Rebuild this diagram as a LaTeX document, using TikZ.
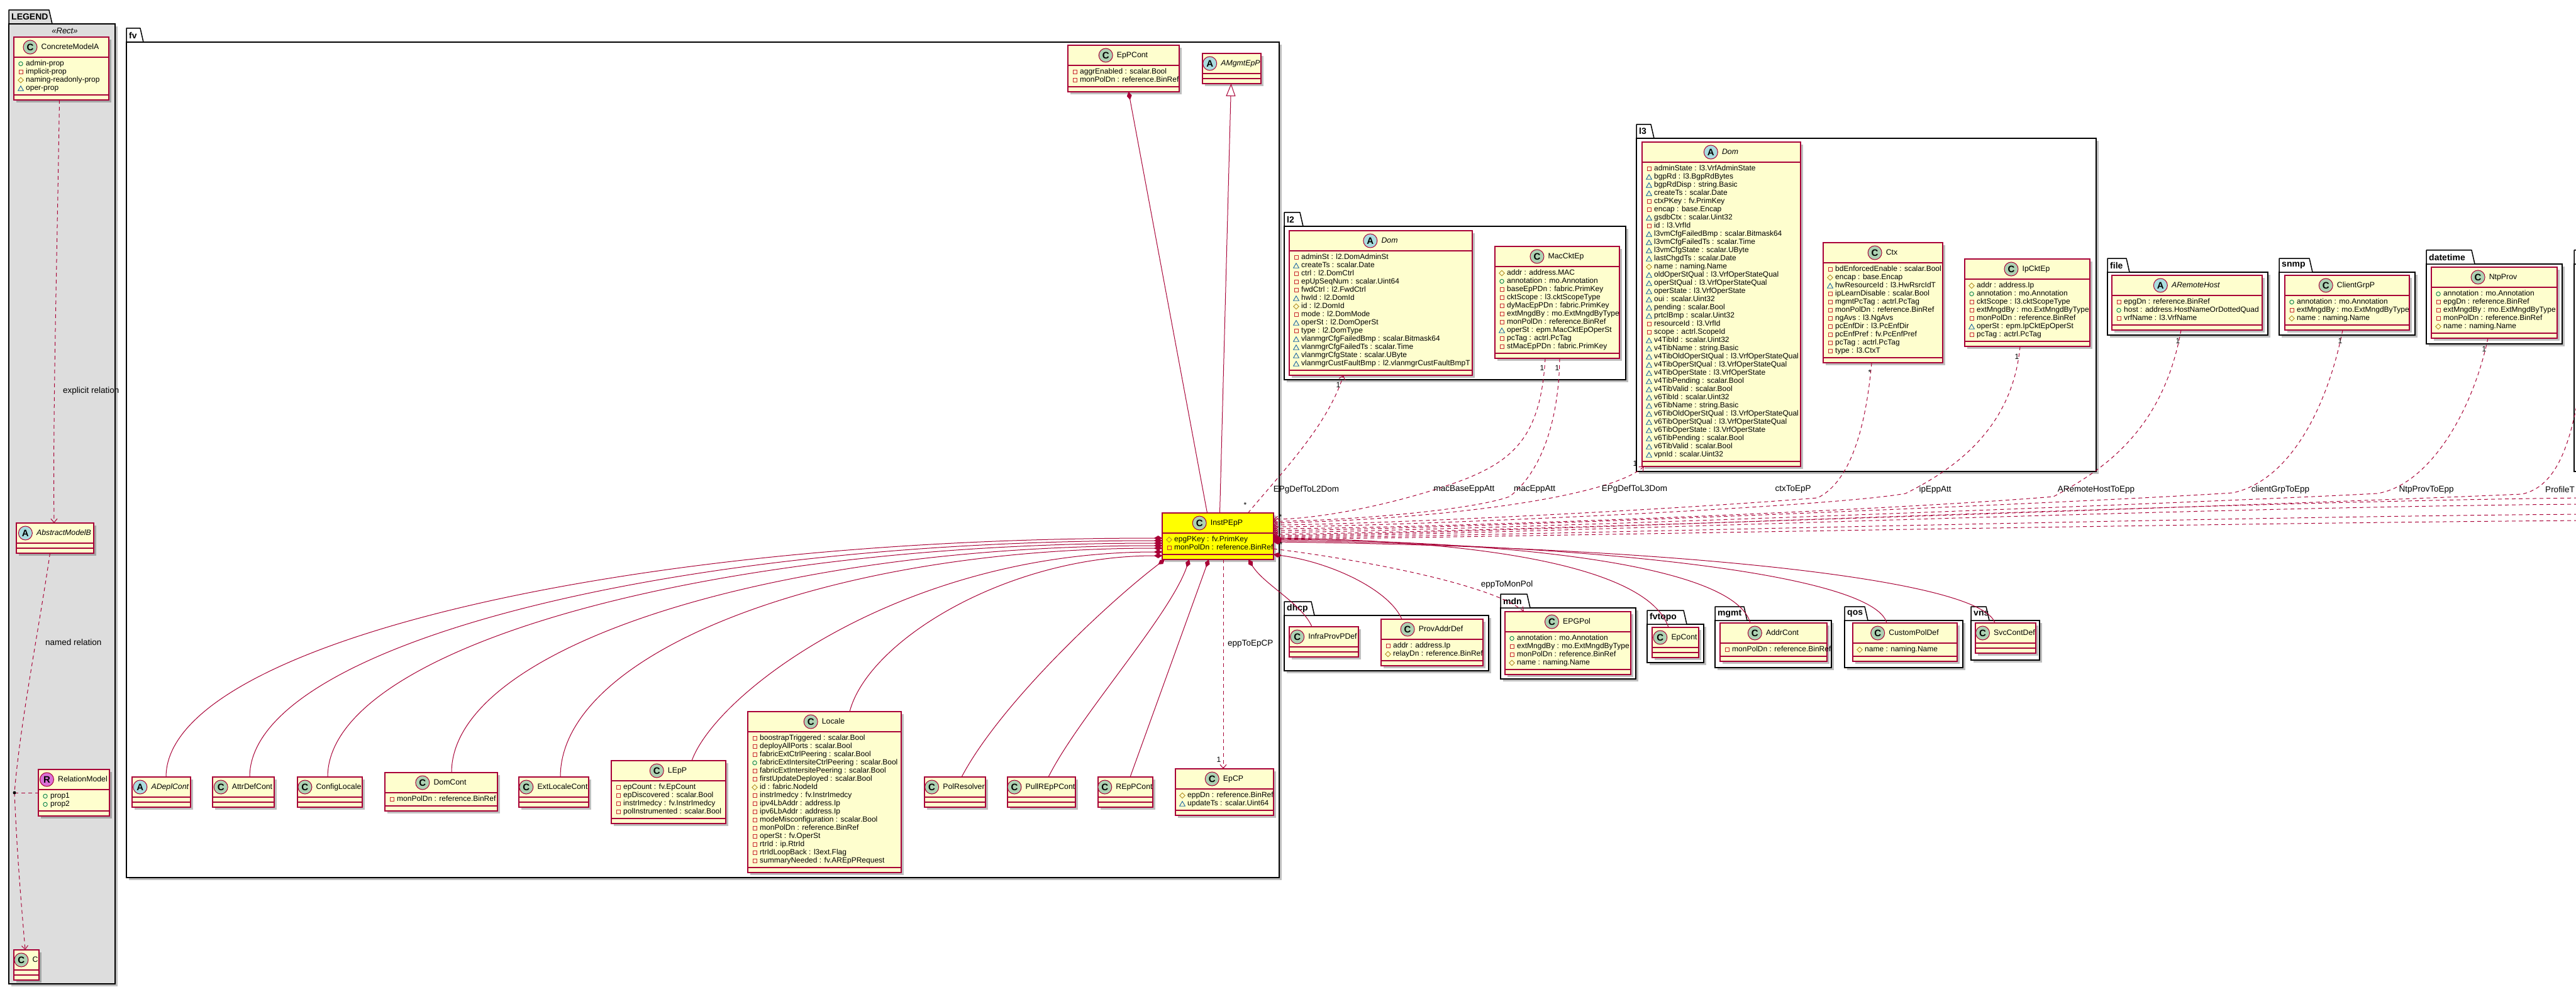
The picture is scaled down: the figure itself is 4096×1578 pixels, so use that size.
\documentclass[tikz,border=0pt]{standalone}
\usepackage{fontspec}
\setmainfont{Liberation Sans}
\usetikzlibrary{arrows.meta,shadows,shapes.geometric}
\definecolor{uml}{HTML}{A80036}
\definecolor{clsfill}{HTML}{FEFECE}
\definecolor{instfill}{HTML}{FFFF00}
\definecolor{iconC}{HTML}{ADD1B2}
\definecolor{iconA}{HTML}{A9DCDF}
\definecolor{iconR}{HTML}{DA70D6}
\definecolor{legbg}{HTML}{DDDDDD}
\definecolor{privc}{HTML}{C82930}
\definecolor{pubc}{HTML}{038048}
\definecolor{protc}{HTML}{B38D22}
\definecolor{pkgc}{HTML}{1963A0}
\tikzset{
 conn/.style={draw=uml, line width=1pt},
 dconn/.style={conn, dash pattern=on 6pt off 5pt},
 comp/.style={conn, {Diamond[length=13pt,width=8pt]}-},
 clsbox/.style={rectangle, draw=uml, line width=1.4pt, inner sep=0pt, outer sep=0pt,
   drop shadow={shadow xshift=4pt,shadow yshift=-4pt,opacity=0.25,fill=black}},
 pkgbox/.style={rectangle, draw=black, line width=1.5pt, inner sep=0pt, outer sep=0pt,
   drop shadow={shadow xshift=4pt,shadow yshift=-4pt,opacity=0.25,fill=black}},
 pkgline/.style={draw=black, line width=1.5pt, line join=round},
 pkgname/.style={inner sep=0pt, anchor=west, font=\bfseries\fontsize{14}{16}\selectfont},
 clsname/.style={inner sep=0pt, font=\fontsize{12.3}{14}\selectfont, text height=9pt, text depth=2.5pt},
 clsicon/.style={circle, draw=uml, line width=1pt, minimum size=22pt, inner sep=0pt,
   font=\bfseries\fontsize{15}{16}\selectfont},
 attrtxt/.style={inner sep=0pt, anchor=west, font=\fontsize{12}{13}\selectfont, text height=8.5pt, text depth=2.5pt},
 atpriv/.style={rectangle, draw=privc, line width=0.9pt, minimum size=6pt, inner sep=0pt},
 atpub/.style={circle, draw=pubc, line width=0.9pt, minimum size=6.5pt, inner sep=0pt},
 atprot/.style={diamond, draw=protc, line width=0.9pt, minimum size=9pt, inner sep=0pt},
 atpkg/.style={regular polygon, regular polygon sides=3, draw=pkgc, line width=0.9pt, minimum size=10pt, inner sep=0pt, yshift=-1.2pt},
 lbl/.style={inner sep=0pt, font=\fontsize{13.5}{15}\selectfont},
 mult/.style={inner sep=0pt, font=\fontsize{12}{14}\selectfont},
 stereo/.style={inner sep=0pt, font=\itshape\fontsize{13}{15}\selectfont},
}
\newcommand{\uiconpriv}[2]{\node[atpriv] (#1) at (#2) {};}
\newcommand{\uiconpub}[2]{\node[atpub] (#1) at (#2) {};}
\newcommand{\uiconprot}[2]{\node[atprot] (#1) at (#2) {};}
\newcommand{\uiconpkg}[2]{\node[atpkg] (#1) at (#2) {};}
% #1 fill, #2 id, #3 x, #4 y, #5 width, #6 number of attributes, #7 letter, #8 icon colour, #9 name
\newcommand{\umlclass}[9][clsfill]{%
  \pgfmathsetmacro{\uh}{48+13*#6}%
  \node[clsbox, fill=#1, minimum width=#5pt, minimum height=\uh pt, anchor=north west] (#2) at (#3,#4) {};
  \draw[uml, line width=1.4pt] ([yshift=-32pt]#2.north west) -- ([yshift=-32pt]#2.north east);
  \draw[uml, line width=1.4pt] ([yshift=8pt]#2.south west) -- ([yshift=8pt]#2.south east);
  \node[clsname] (#2-n) at ([xshift=14pt,yshift=-16pt]#2.north) {#9};
  \node[clsicon, fill=#8, anchor=east] (#2-i) at ([xshift=-6pt]#2-n.west) {#7};
}
\newcommand{\uattr}[4]{%
  \pgfmathsetmacro{\ay}{42.5+13*(#2-1)}%
  \csname uicon#3\endcsname{#1-k#2}{[xshift=11pt,yshift=-\ay pt]#1.north west}%
  \node[attrtxt] (#1-a#2) at ([xshift=19pt,yshift=-\ay pt]#1.north west) {#4};
}
\newcommand{\uattrs}[2]{\foreach \ukd/\utx [count=\uidx] in {#2} {\uattr{#1}{\uidx}{\ukd}{\utx}}}
% #1 id, #2 x, #3 body top, #4 w, #5 h, #6 tab width, #7 name, #8 fill
\newcommand{\upkg}[8]{%
  \node[pkgbox, fill=#8, minimum width=#4pt, minimum height=#5pt, anchor=north west] (#1) at (#2,#3) {};
  \draw[pkgline, fill=#8] (#2,#3) -- (#2,#3-22) -- (#2+#6-5,#3-22) -- (#2+#6,#3) -- cycle;
  \node[pkgname] (#1-t) at (#2+4,#3-11) {#7};
}
\begin{document}
\begin{tikzpicture}[x=1pt,y=-1pt,>={Straight Barb[length=6pt,width=10pt]}]
\useasboundingbox (0,0) rectangle (4096,1578);
\clip (0,0) rectangle (4096,1578);
\fill[white] (0,0) rectangle (4096,1578);

% ---------------- packages
\upkg{pLEG}{14}{38}{169}{1527}{69}{LEGEND}{legbg}
\upkg{pfv}{201}{67}{1833}{1329}{27}{fv}{white}
\upkg{pl2}{2042}{360}{543}{244}{30}{l2}{white}
\upkg{pl3}{2602}{220}{731}{530}{28}{l3}{white}
\upkg{pfile}{3351}{433}{255}{100}{35}{file}{white}
\upkg{psnmp}{3624}{433}{216}{100}{53}{snmp}{white}
\upkg{pdt}{3858}{420}{216}{127}{77}{datetime}{white}
\upkg{pext}{4093}{420}{300}{330}{60}{}{white}
\upkg{pdhcp}{2042}{979}{325}{88}{48}{dhcp}{white}
\upkg{pmdn}{2386}{967}{215}{113}{47}{mdn}{white}
\upkg{pfvt}{2619}{993}{90}{61}{63}{fvtopo}{white}
\upkg{pmgmt}{2727}{987}{185}{75}{51}{mgmt}{white}
\upkg{pqos}{2933}{987}{188}{75}{37}{qos}{white}
\upkg{pvns}{3134}{987}{109}{63}{29}{vns}{white}

% ---------------- legend
\node[stereo] (st) at (103,49) {«Rect»};
\umlclass{cma}{22}{59}{151}{4}{C}{iconC}{ConcreteModelA}
\uattrs{cma}{pub/admin-prop,priv/implicit-prop,prot/naming-readonly-prop,pkg/oper-prop}
\umlclass{amb}{26}{832}{123}{0}{A}{iconA}{\textit{AbstractModelB}}
\umlclass{rm}{61}{1224}{113}{2}{R}{iconR}{RelationModel}
\uattrs{rm}{pub/prop1,pub/prop2}
\umlclass{cc}{22}{1511}{40}{0}{C}{iconC}{C}

% ---------------- fv
\umlclass{eppc}{1698}{72}{177}{2}{C}{iconC}{EpPCont}
\uattrs{eppc}{priv/aggrEnabled : scalar.Bool,priv/monPolDn : reference.BinRef}
\umlclass{amgmt}{1912}{85}{93}{0}{A}{iconA}{\textit{AMgmtEpP}}
\umlclass[instfill]{inst}{1848}{816}{177}{2}{C}{iconC}{InstPEpP}
\uattrs{inst}{prot/epgPKey : fv.PrimKey,priv/monPolDn : reference.BinRef}
\umlclass{adepl}{210}{1236}{93}{0}{A}{iconA}{\textit{ADeplCont}}
\umlclass{attrdef}{338}{1236}{98}{0}{C}{iconC}{AttrDefCont}
\umlclass{cfgloc}{473}{1236}{103}{0}{C}{iconC}{ConfigLocale}
\umlclass{domcont}{612}{1229}{179}{1}{C}{iconC}{DomCont}
\uattrs{domcont}{priv/monPolDn : reference.BinRef}
\umlclass{extloc}{825}{1236}{111}{0}{C}{iconC}{ExtLocaleCont}
\umlclass{lepp}{972}{1210}{182}{4}{C}{iconC}{LEpP}
\uattrs{lepp}{priv/epCount : fv.EpCount,priv/epDiscovered : scalar.Bool,priv/instrImedcy : fv.InstrImedcy,priv/polInstrumented : scalar.Bool}
\umlclass{locale}{1189}{1132}{244}{16}{C}{iconC}{Locale}
\uattrs{locale}{priv/boostrapTriggered : scalar.Bool,%
priv/deployAllPorts : scalar.Bool,%
priv/fabricExtCtrlPeering : scalar.Bool,%
pub/fabricExtIntersiteCtrlPeering : scalar.Bool,%
priv/fabricExtIntersitePeering : scalar.Bool,%
priv/firstUpdateDeployed : scalar.Bool,%
prot/id : fabric.NodeId,%
priv/instrImedcy : fv.InstrImedcy,%
priv/ipv4LbAddr : address.Ip,%
priv/ipv6LbAddr : address.Ip,%
priv/modeMisconfiguration : scalar.Bool,%
priv/monPolDn : reference.BinRef,%
priv/operSt : fv.OperSt,%
priv/rtrId : ip.RtrId,%
priv/rtrIdLoopBack : l3ext.Flag,%
priv/summaryNeeded : fv.AREpPRequest}
\umlclass{polres}{1470}{1236}{97}{0}{C}{iconC}{PolResolver}
\umlclass{pullrep}{1602}{1236}{108}{0}{C}{iconC}{PullREpPCont}
\umlclass{rep}{1746}{1236}{87}{0}{C}{iconC}{REpPCont}
\umlclass{epcp}{1869}{1223}{156}{2}{C}{iconC}{EpCP}
\uattrs{epcp}{prot/eppDn : reference.BinRef,pkg/updateTs : scalar.Uint64}

% ---------------- l2
\umlclass{l2dom}{2050}{367}{291}{14}{A}{iconA}{\textit{Dom}}
\uattrs{l2dom}{priv/adminSt : l2.DomAdminSt,%
pkg/createTs : scalar.Date,%
priv/ctrl : l2.DomCtrl,%
priv/epUpSeqNum : scalar.Uint64,%
priv/fwdCtrl : l2.FwdCtrl,%
pkg/hwId : l2.DomId,%
prot/id : l2.DomId,%
priv/mode : l2.DomMode,%
pkg/operSt : l2.DomOperSt,%
priv/type : l2.DomType,%
pkg/vlanmgrCfgFailedBmp : scalar.Bitmask64,%
pkg/vlanmgrCfgFailedTs : scalar.Time,%
pkg/vlanmgrCfgState : scalar.UByte,%
pkg/vlanmgrCustFaultBmp : l2.vlanmgrCustFaultBmpT}
\umlclass{maccktep}{2377}{392}{198}{10}{C}{iconC}{MacCktEp}
\uattrs{maccktep}{prot/addr : address.MAC,%
pub/annotation : mo.Annotation,%
priv/baseEpPDn : fabric.PrimKey,%
priv/cktScope : l3.cktScopeType,%
priv/dyMacEpPDn : fabric.PrimKey,%
priv/extMngdBy : mo.ExtMngdByType,%
priv/monPolDn : reference.BinRef,%
pkg/operSt : epm.MacCktEpOperSt,%
priv/pcTag : actrl.PcTag,%
priv/stMacEpPDn : fabric.PrimKey}

% ---------------- l3
\umlclass{l3dom}{2611}{226}{252}{36}{A}{iconA}{\textit{Dom}}
\uattrs{l3dom}{priv/adminState : l3.VrfAdminState,%
pkg/bgpRd : l3.BgpRdBytes,%
pkg/bgpRdDisp : string.Basic,%
pkg/createTs : scalar.Date,%
priv/ctxPKey : fv.PrimKey,%
priv/encap : base.Encap,%
pkg/gsdbCtx : scalar.Uint32,%
priv/id : l3.VrfId,%
pkg/l3vmCfgFailedBmp : scalar.Bitmask64,%
pkg/l3vmCfgFailedTs : scalar.Time,%
pkg/l3vmCfgState : scalar.UByte,%
pkg/lastChgdTs : scalar.Date,%
prot/name : naming.Name,%
pkg/oldOperStQual : l3.VrfOperStateQual,%
pkg/operStQual : l3.VrfOperStateQual,%
pkg/operState : l3.VrfOperState,%
pkg/oui : scalar.Uint32,%
pkg/pending : scalar.Bool,%
pkg/prtclBmp : scalar.Uint32,%
priv/resourceId : l3.VrfId,%
priv/scope : actrl.ScopeId,%
pkg/v4TibId : scalar.Uint32,%
pkg/v4TibName : string.Basic,%
pkg/v4TibOldOperStQual : l3.VrfOperStateQual,%
pkg/v4TibOperStQual : l3.VrfOperStateQual,%
pkg/v4TibOperState : l3.VrfOperState,%
pkg/v4TibPending : scalar.Bool,%
pkg/v4TibValid : scalar.Bool,%
pkg/v6TibId : scalar.Uint32,%
pkg/v6TibName : string.Basic,%
pkg/v6TibOldOperStQual : l3.VrfOperStateQual,%
pkg/v6TibOperStQual : l3.VrfOperStateQual,%
pkg/v6TibOperState : l3.VrfOperState,%
pkg/v6TibPending : scalar.Bool,%
pkg/v6TibValid : scalar.Bool,%
pkg/vpnId : scalar.Uint32}
\umlclass{ctx}{2899}{386}{190}{11}{C}{iconC}{Ctx}
\uattrs{ctx}{priv/bdEnforcedEnable : scalar.Bool,%
prot/encap : base.Encap,%
pkg/hwResourceId : l3.HwRsrcIdT,%
priv/ipLearnDisable : scalar.Bool,%
priv/mgmtPcTag : actrl.PcTag,%
priv/monPolDn : reference.BinRef,%
priv/ngAvs : l3.NgAvs,%
priv/pcEnfDir : l3.PcEnfDir,%
priv/pcEnfPref : fv.PcEnfPref,%
priv/pcTag : actrl.PcTag,%
priv/type : l3.CtxT}
\umlclass{ipckt}{3124}{412}{199}{7}{C}{iconC}{IpCktEp}
\uattrs{ipckt}{prot/addr : address.Ip,%
pub/annotation : mo.Annotation,%
priv/cktScope : l3.cktScopeType,%
priv/extMngdBy : mo.ExtMngdByType,%
priv/monPolDn : reference.BinRef,%
pkg/operSt : epm.IpCktEpOperSt,%
priv/pcTag : actrl.PcTag}

% ---------------- file / snmp / datetime
\umlclass{arh}{3358}{438}{239}{3}{A}{iconA}{\textit{ARemoteHost}}
\uattrs{arh}{priv/epgDn : reference.BinRef,pub/host : address.HostNameOrDottedQuad,priv/vrfName : l3.VrfName}
\umlclass{cgp}{3633}{438}{198}{3}{C}{iconC}{ClientGrpP}
\uattrs{cgp}{pub/annotation : mo.Annotation,priv/extMngdBy : mo.ExtMngdByType,prot/name : naming.Name}
\umlclass{ntp}{3866}{425}{200}{5}{C}{iconC}{NtpProv}
\uattrs{ntp}{pub/annotation : mo.Annotation,priv/epgDn : reference.BinRef,priv/extMngdBy : mo.ExtMngdByType,priv/monPolDn : reference.BinRef,prot/name : naming.Name}

% ---------------- lower packages
\umlclass{ipd}{2050}{997}{110}{0}{C}{iconC}{InfraProvPDef}
\umlclass{pad}{2196}{985}{162}{2}{C}{iconC}{ProvAddrDef}
\uattrs{pad}{priv/addr : address.Ip,prot/relayDn : reference.BinRef}
\umlclass{epgpol}{2393}{973}{200}{4}{C}{iconC}{EPGPol}
\uattrs{epgpol}{pub/annotation : mo.Annotation,priv/extMngdBy : mo.ExtMngdByType,priv/monPolDn : reference.BinRef,prot/name : naming.Name}
\umlclass{epcont}{2627}{998}{74}{0}{C}{iconC}{EpCont}
\umlclass{addrcont}{2735}{991}{170}{1}{C}{iconC}{AddrCont}
\uattrs{addrcont}{priv/monPolDn : reference.BinRef}
\umlclass{cpd}{2946}{991}{166}{1}{C}{iconC}{CustomPolDef}
\uattrs{cpd}{prot/name : naming.Name}
\umlclass{scd}{3141}{991}{96}{0}{C}{iconC}{SvcContDef}

% ---------------- legend connectors
\draw[dconn,->] ([xshift=-3pt]cma.south) .. controls (90,450) and (84,650) .. ([xshift=-1.5pt]amb.north);
\node[lbl, anchor=west] (lb-exp) at (100,622) {explicit relation};
\coordinate (jn) at (23,1261);
\draw[dconn] ([xshift=-8pt]amb.south) .. controls (62,1000) and (32,1150) .. (jn);
\draw[dconn] (jn) -- (rm.west);
\draw[dconn,->] (jn) .. controls (28,1380) and (36,1460) .. ([xshift=-2pt]cc.north);
\fill[black] (jn) circle (2.5pt);
\node[lbl, anchor=west] (lb-named) at (72,1022) {named relation};

% ---------------- fv connectors
\draw[conn, {Diamond[length=13pt,width=8pt]}-] ([xshift=8pt]eppc.south) -- ([xshift=-17pt]inst.north);
\draw[conn, -{Triangle[length=20pt,width=15pt,fill=white]}] ([xshift=3pt]inst.north) -- ([xshift=-1pt]amgmt.south);

\draw[comp] ([yshift=-3pt]inst.west) .. controls (977,856) and (264,1027) .. ([xshift=7.5pt]adepl.north);
\draw[comp] ([yshift=-7pt]inst.west) .. controls (1050,860) and (397,1029) .. ([xshift=10pt]attrdef.north);
\draw[comp] ([yshift=-11pt]inst.west) .. controls (1118,864) and (521,1031) .. ([xshift=-3.5pt]cfgloc.north);
\draw[comp] ([yshift=-15pt]inst.west) .. controls (1226,868) and (718,1030) .. ([xshift=16.5pt]domcont.north);
\draw[comp] ([yshift=-19pt]inst.west) .. controls (1322,872) and (891,1036) .. ([xshift=10.5pt]extloc.north);
\draw[comp] ([yshift=-25pt]inst.west) .. controls (1437,878) and (1140,1100) .. ([xshift=37pt]lepp.north);
\draw[comp] ([yshift=-31pt]inst.west) .. controls (1600,884) and (1380,1020) .. ([xshift=40pt]locale.north);
\draw[comp] ([xshift=4pt]inst.south west) .. controls (1760,960) and (1590,1120) .. ([xshift=10.5pt]polres.north);
\draw[comp] ([xshift=43pt]inst.south west) .. controls (1860,980) and (1715,1140) .. ([xshift=11pt]pullrep.north);
\draw[comp] ([xshift=74pt]inst.south west) -- ([xshift=7.5pt]rep.north);
\draw[comp] ([xshift=137pt]inst.south west) .. controls (2010,930) and (2070,960) .. ([xshift=-19pt]ipd.north);
\draw[comp] ([yshift=-29pt]inst.east) .. controls (2120,895) and (2210,940) .. ([xshift=-48pt]pad.north);
\draw[comp] ([yshift=-3pt]inst.east) .. controls (2350,860) and (2620,900) .. ([xshift=-11pt]epcont.north);
\draw[comp] ([yshift=-5pt]inst.east) .. controls (2450,862) and (2760,905) .. ([xshift=-37pt]addrcont.north);
\draw[comp] ([yshift=-7pt]inst.east) .. controls (2550,866) and (2980,915) .. ([xshift=-29pt]cpd.north);
\draw[comp] ([yshift=-9pt]inst.east) .. controls (2650,870) and (3150,920) .. ([xshift=-17pt]scd.north);

% dashed relations
\draw[dconn,->] ([xshift=48pt]inst.north) .. controls (2030,760) and (2110,680) .. ([xshift=-59.5pt]l2dom.south);
\node[mult] (mu-a1) at (1980,803) {*};
\node[mult] (mu-a2) at (2128,612) {1};
\node[lbl] (lb-l2) at (2077,779) {EPgDefToL2Dom};

\draw[dconn,->] ([xshift=-19pt]maccktep.south) .. controls (2450,690) and (2410,730) .. (2330,762) .. controls (2230,800) and (2100,826) .. ([yshift=27pt]inst.east);
\node[mult] (mu-b) at (2452,585) {1};
\node[lbl] (lb-mb) at (2328,778) {macBaseEppAtt};

\draw[dconn,->] ([xshift=4pt]maccktep.south) .. controls (2478,690) and (2440,760) .. (2400,790) .. controls (2330,815) and (2100,830) .. ([yshift=24pt]inst.east);
\node[mult] (mu-c) at (2476,585) {1};
\node[lbl] (lb-me) at (2440,778) {macEppAtt};

\draw[dconn,->] ([yshift=21pt]inst.east) .. controls (2300,826) and (2560,790) .. ([xshift=3pt]l3dom.south west);
\node[mult] (mu-d) at (2600,737) {1};
\node[lbl] (lb-l3) at (2599,778) {EPgDefToL3Dom};

\draw[dconn,->] ([xshift=-18pt]ctx.south) .. controls (2965,700) and (2935,770) .. (2890,792) .. controls (2600,815) and (2150,835) .. ([yshift=18pt]inst.east);
\node[mult] (mu-e) at (2973,592) {*};
\node[lbl] (lb-ctx) at (2851,778) {ctxToEpP};

\draw[dconn,->] ([xshift=-11.5pt]ipckt.south) .. controls (3200,680) and (3110,745) .. (3030,785) .. controls (2900,808) and (2200,838) .. ([yshift=15pt]inst.east);
\node[mult] (mu-f) at (3207,567) {1};
\node[lbl] (lb-ip) at (3077,779) {ipEppAtt};

\draw[dconn,->] ([xshift=-9.5pt]arh.south) .. controls (3440,680) and (3350,745) .. (3265,790) .. controls (3000,812) and (2300,840) .. ([yshift=12pt]inst.east);
\node[mult] (mu-g) at (3463,542) {1};
\node[lbl] (lb-arh) at (3333,779) {ARemoteHostToEpp};

\draw[dconn,->] ([xshift=-7pt]cgp.south) .. controls (3700,650) and (3640,765) .. (3550,784) .. controls (3300,800) and (2300,842) .. ([yshift=9pt]inst.east);
\node[mult] (mu-h) at (3721,542) {1};
\node[lbl] (lb-cgp) at (3626,779) {clientGrpToEpp};

\draw[dconn,->] ([xshift=-10pt]ntp.south) .. controls (3930,660) and (3860,772) .. (3780,785) .. controls (3500,800) and (2300,845) .. ([yshift=6pt]inst.east);
\node[mult] (mu-i) at (3950,555) {1};
\node[lbl] (lb-ntp) at (3858,779) {NtpProvToEpp};

\coordinate (rx0) at (4110,560);
\coordinate (rx1) at (4110,792);
\coordinate (rx2) at (4110,802);
\coordinate (rx3) at (4110,818);
\coordinate (rx4) at (4110,828);
\draw[dconn,->] (rx0) .. controls (4095,680) and (4075,772) .. (4010,786) .. controls (3700,800) and (2300,848) .. ([yshift=3pt]inst.east);
\node[lbl, anchor=west] (lb-prof) at (4047,779) {ProfileT};
\draw[dconn,->] (rx1) .. controls (3500,798) and (2400,848) .. ([yshift=1pt]inst.east);
\draw[dconn,->] (rx2) .. controls (3500,806) and (2400,850) .. ([yshift=-1pt]inst.east);
\draw[dconn,->] (rx3) .. controls (3500,822) and (2400,852) .. ([yshift=-3pt]inst.east);
\draw[dconn,->] (rx4) .. controls (3500,832) and (2400,854) .. ([yshift=-5pt]inst.east);
\node[mult] (mu-j) at (2036,822) {*};

\draw[dconn,->] ([yshift=-20pt]inst.east) .. controls (2200,895) and (2380,935) .. ([xshift=-70pt]epgpol.north);
\node[mult] (mu-k) at (2037,866) {*};
\node[lbl] (lb-mon) at (2396,930) {eppToMonPol};

\draw[dconn,->] ([xshift=8.5pt]inst.south) -- ([xshift=-2pt]epcp.north);
\node[mult] (mu-l) at (1938,1208) {1};
\node[lbl, anchor=west] (lb-epcp) at (1952,1024) {eppToEpCP};
\end{tikzpicture}
\end{document}
